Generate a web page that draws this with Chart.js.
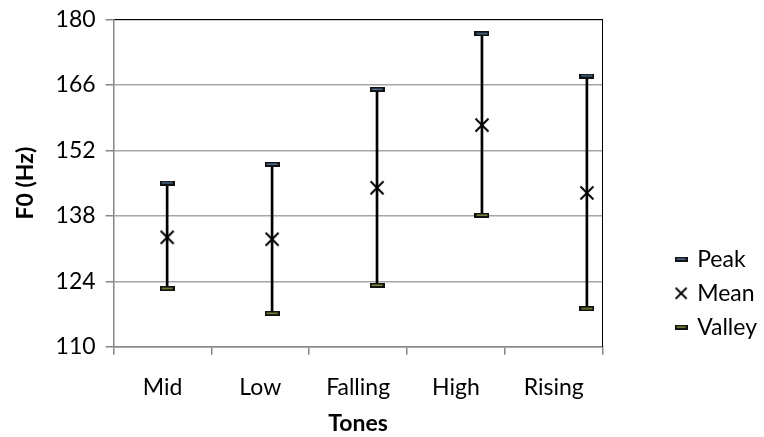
<!DOCTYPE html>
<html><head><meta charset="utf-8">
<script src="https://cdn.jsdelivr.net/npm/chart.js@4/dist/chart.umd.min.js"></script>
<style>html,body{margin:0;padding:0;background:#fff}#wrap{width:764px;height:437px;position:relative}</style>
</head><body><div id="wrap"><canvas id="c"></canvas></div>
<script>
const categories = ['Mid', 'Low', 'Falling', 'High', 'Rising'];
const peakValues = [145.0, 149.0, 165.0, 176.9, 167.9];
const meanValues = [133.4, 133.0, 144.0, 157.4, 142.9];
const valleyValues = [122.4, 117.1, 123.1, 138.1, 118.1];
const yTicks = [110, 124, 138, 152, 166, 180];
const seriesNames = ['Peak', 'Mean', 'Valley'];

const FONT = 'Lato';

function dashImg(w, h, inner) {
  const c = document.createElement('canvas'); c.width = w; c.height = h;
  const g = c.getContext('2d');
  g.fillStyle = '#111'; g.fillRect(0, 0, w, h);
  g.fillStyle = inner; g.fillRect(2, Math.floor(h / 2) - 0.5, w - 4, 1.5);
  return c;
}
function crossImg(s, lw) {
  const c = document.createElement('canvas'); c.width = s; c.height = s;
  const g = c.getContext('2d');
  g.strokeStyle = '#000'; g.lineWidth = lw;
  g.beginPath(); g.moveTo(1.5, 1.5); g.lineTo(s - 1.5, s - 1.5);
  g.moveTo(s - 1.5, 1.5); g.lineTo(1.5, s - 1.5); g.stroke();
  return c;
}
const peakMark = dashImg(15, 5, '#4f6f94');
const valleyMark = dashImg(15, 5, '#7d8f3c');
const meanMark = crossImg(16, 2);
const legendMarks = [dashImg(13, 5, '#4f6f94'), crossImg(14, 1.8), dashImg(13, 5, '#7d8f3c')];

const pts = arr => arr.map((v, i) => ({x: i, y: v}));

const legendShift = {
  id: 'legendShift',
  afterLayout(chart) {
    if (chart.legend) {
      chart.legend.top += 3; chart.legend.bottom += 3;
      chart.legend.left += 3; chart.legend.right += 3;
    }
  }
};

new Chart(document.getElementById('c'), {
  type: 'scatter',
  data: {
    datasets: [
      {type: 'bar', label: 'range', data: categories.map((c, i) => ({x: i, y: [valleyValues[i], peakValues[i]]})),
       backgroundColor: '#000', barThickness: 2, order: 10, grouped: false},
      {label: seriesNames[0], data: pts(peakValues), pointStyle: peakMark, order: 1},
      {label: seriesNames[1], data: pts(meanValues), pointStyle: meanMark, order: 1},
      {label: seriesNames[2], data: pts(valleyValues), pointStyle: valleyMark, order: 1}
    ]
  },
  plugins: [legendShift],
  options: {
    responsive: true, maintainAspectRatio: false, animation: false,
    layout: {padding: {left: 12, top: 0, right: 0, bottom: 0}},
    plugins: {
      tooltip: {enabled: false},
      legend: {
        position: 'right', align: 'end', fullSize: false,
        labels: {
          usePointStyle: true, pointStyleWidth: 9, padding: 11, color: '#000', font: {family: FONT, size: 23},
          generateLabels: chart => seriesNames.map((n, i) => ({
            text: n, pointStyle: legendMarks[i], datasetIndex: i + 1, fontColor: '#000',
            lineWidth: 0, hidden: false
          }))
        }
      }
    },
    scales: {
      x: {type: 'linear', display: false, offset: false, min: -0.51, max: 4.15},
      xc: {type: 'category', labels: categories, position: 'bottom', offset: true,
        grid: {offset: true, drawOnChartArea: false, tickLength: 8, color: '#868686', lineWidth: 1.5},
        border: {color: '#868686', width: 1.5},
        ticks: {color: '#000', font: {family: FONT, size: 23}, padding: 19, maxRotation: 0, autoSkip: false},
        title: {display: true, text: 'Tones', color: '#000', font: {family: FONT, size: 23, weight: 'bold'}, padding: {top: -11, bottom: 0}}
      },
      x2: {type: 'linear', position: 'top', display: true,
        grid: {display: false, drawTicks: false}, ticks: {display: false},
        border: {color: '#000', width: 1}},
      y: {type: 'linear', min: 110, max: 180,
        afterBuildTicks: s => { s.ticks = yTicks.map(v => ({value: v})); },
        ticks: {color: '#000', font: {family: FONT, size: 23, lineHeight: 0.82}, padding: 10},
        grid: {color: '#a6a6a6', lineWidth: 1.5, tickLength: 8, tickColor: '#868686'},
        border: {color: '#868686', width: 1.5},
        title: {display: true, text: 'F0 (Hz)', color: '#000', font: {family: FONT, size: 23, weight: 'bold'}, padding: {top: 0, bottom: 6}}
      },
      y2: {type: 'linear', position: 'right', display: true,
        grid: {display: false, drawTicks: false}, ticks: {display: false},
        border: {color: '#000', width: 1},
        afterFit: s => { s.width = 60; }}
    }
  }
});
</script></body></html>
